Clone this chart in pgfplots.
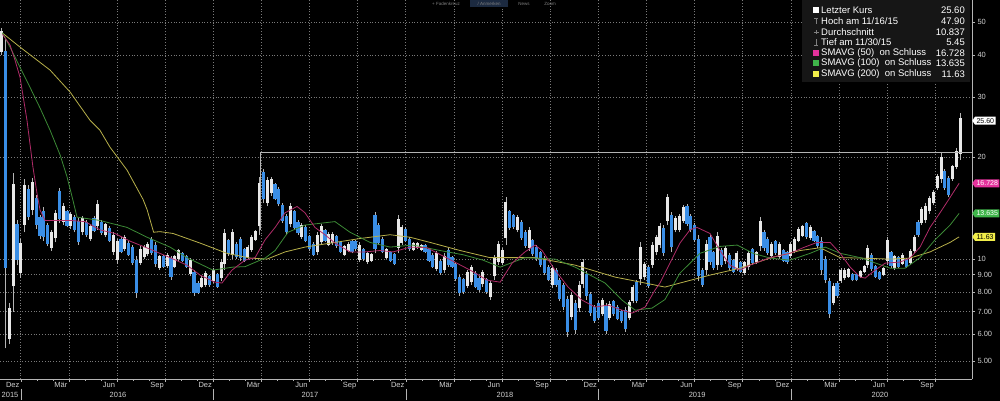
\documentclass[border=0pt]{standalone}
\usepackage{pgfplots}
\pgfplotsset{compat=1.18}
\usepackage{pgfplotstable}
\usepackage{fontspec}
\setmainfont{Liberation Sans}
\usetikzlibrary{shapes.symbols}
\definecolor{cblue}{HTML}{3A8EE6}
\definecolor{cwhite}{HTML}{E8E8E8}
\definecolor{cwick}{HTML}{B4B4B4}
\definecolor{cmag}{HTML}{B02C68}
\definecolor{cgreen}{HTML}{3C8A36}
\definecolor{cyel}{HTML}{B8B04A}
\definecolor{cgrid}{HTML}{7A7A7A}
\definecolor{ctxt}{HTML}{D0D0D0}
\definecolor{legbg}{HTML}{161616}
\definecolor{lmag}{HTML}{E4329C}
\definecolor{lgreen}{HTML}{3FB54A}
\definecolor{lyel}{HTML}{F2EE4A}
\definecolor{ctool}{HTML}{1C2A40}

\pgfplotstableread{
t lo hi b
2015.90 40.0 47.9 0
2015.92 5.45 45.0 1
2015.94 5.6 7.4 0
2015.96 7.0 18.0 0
2015.98 9.6 13.0 1
2016.00 8.8 11.5 0
2016.02 12.0 17.2 0
2016.04 13.0 16.5 1
2016.06 13.5 17.4 0
2016.08 12.3 15.5 1
2016.10 11.5 13.5 1
2016.12 11.3 14.2 1
2016.14 10.9 12.8 1
2016.16 10.6 12.2 0
2016.18 11.2 14.0 0
2016.20 12.8 16.2 1
2016.22 12.6 14.6 0
2016.24 12.4 14.0 1
2016.26 12.3 13.8 0
2016.28 12.0 13.5 1
2016.30 11.0 13.2 1
2016.32 11.8 13.4 0
2016.34 11.6 13.0 1
2016.36 11.3 12.7 0
2016.38 12.0 13.4 1
2016.40 12.2 14.9 0
2016.42 11.8 13.0 1
2016.44 11.6 12.8 0
2016.46 11.2 12.5 1
2016.48 10.3 12.0 0
2016.50 9.7 11.5 0
2016.52 10.4 11.6 1
2016.54 10.6 11.8 0
2016.56 10.2 11.3 1
2016.58 9.6 11.0 1
2016.60 7.7 10.2 1
2016.62 9.6 10.9 0
2016.64 10.0 11.0 0
2016.66 10.2 11.2 0
2016.68 10.3 11.6 1
2016.70 9.5 11.2 1
2016.72 9.3 10.3 0
2016.74 9.4 10.3 1
2016.76 9.4 10.4 0
2016.78 8.7 10.2 1
2016.80 9.4 10.3 0
2016.82 9.9 10.7 0
2016.84 9.8 10.5 1
2016.86 9.4 10.3 1
2016.88 8.9 10.1 0
2016.90 7.8 9.3 1
2016.92 7.9 8.6 1
2016.94 8.2 8.9 0
2016.96 8.3 9.2 0
2016.98 8.3 9.0 1
2017.00 8.5 9.4 0
2017.02 8.2 9.1 1
2017.04 8.6 10.0 0
2017.06 9.3 12.3 0
2017.08 10.2 11.5 1
2017.10 10.0 12.3 0
2017.12 10.0 11.2 1
2017.14 9.9 11.6 1
2017.16 9.8 10.8 1
2017.18 10.0 11.0 0
2017.20 10.5 11.8 0
2017.22 11.3 12.2 0
2017.24 11.8 17.5 0
2017.26 14.6 18.5 1
2017.28 14.3 17.5 0
2017.30 15.4 17.5 0
2017.32 14.9 16.8 1
2017.34 14.3 16.3 1
2017.36 12.8 14.6 1
2017.38 11.8 13.6 1
2017.40 12.4 14.6 0
2017.42 12.2 14.0 1
2017.44 11.8 13.0 1
2017.46 11.5 12.8 0
2017.48 11.2 12.6 1
2017.50 10.6 11.8 1
2017.52 10.2 11.2 1
2017.54 10.3 12.0 0
2017.56 11.0 12.7 0
2017.58 11.2 12.3 1
2017.60 10.9 12.0 0
2017.62 11.0 12.0 0
2017.64 10.8 11.8 1
2017.66 10.4 11.3 1
2017.68 10.2 11.0 0
2017.70 10.5 11.2 0
2017.72 10.4 11.4 1
2017.74 10.6 11.4 1
2017.76 9.8 11.2 0
2017.78 9.9 10.8 1
2017.80 9.7 10.5 0
2017.82 9.8 10.4 0
2017.84 10.4 13.8 1
2017.86 11.0 12.8 1
2017.88 10.4 11.6 1
2017.90 10.0 10.8 0
2017.92 9.8 10.6 1
2017.94 9.6 10.4 1
2017.96 10.4 13.5 0
2017.98 11.0 12.6 0
2018.00 11.2 12.4 1
2018.02 10.6 11.6 1
2018.04 10.6 11.2 0
2018.06 10.7 11.2 0
2018.08 10.6 11.1 0
2018.10 10.4 11.1 1
2018.12 9.8 10.8 1
2018.14 9.4 10.4 1
2018.16 9.2 10.6 0
2018.18 9.0 10.0 1
2018.20 9.1 10.4 0
2018.22 9.5 10.8 1
2018.24 9.4 10.2 1
2018.26 8.6 9.8 1
2018.28 7.8 9.0 1
2018.30 7.9 8.8 1
2018.32 8.2 9.3 0
2018.34 8.4 9.6 0
2018.36 8.2 9.2 1
2018.38 8.0 8.9 1
2018.40 8.3 9.3 0
2018.42 7.9 8.8 1
2018.44 7.6 8.6 0
2018.46 8.7 10.3 0
2018.48 9.6 11.3 0
2018.50 9.6 10.8 0
2018.52 11.0 15.2 0
2018.54 12.2 14.0 1
2018.56 12.3 13.6 1
2018.58 12.0 13.5 0
2018.60 11.4 13.0 1
2018.62 10.8 12.2 1
2018.64 10.6 12.4 0
2018.66 10.2 11.5 1
2018.68 9.9 11.0 1
2018.70 9.5 10.6 1
2018.72 9.0 10.2 1
2018.74 8.6 9.6 1
2018.76 8.2 9.6 0
2018.78 8.3 9.4 1
2018.80 7.5 8.8 1
2018.82 7.1 8.5 1
2018.84 5.9 7.8 1
2018.86 6.6 8.0 0
2018.88 6.0 7.6 1
2018.90 7.0 8.6 0
2018.92 8.2 10.0 0
2018.94 7.6 9.2 1
2018.96 6.8 8.0 1
2018.98 6.5 7.3 1
2019.00 6.6 7.5 1
2019.02 6.8 7.7 0
2019.04 6.0 7.4 1
2019.06 6.6 7.5 0
2019.08 6.8 7.6 1
2019.10 6.6 7.3 1
2019.12 6.5 7.1 1
2019.14 6.1 7.2 1
2019.16 6.6 7.6 0
2019.18 7.4 8.4 0
2019.20 7.4 8.7 1
2019.22 8.4 11.2 0
2019.24 8.7 9.8 0
2019.26 8.2 9.6 1
2019.28 9.4 11.2 0
2019.30 10.3 11.8 0
2019.32 10.8 12.8 0
2019.34 10.2 12.6 1
2019.36 12.6 15.6 0
2019.38 10.5 13.8 1
2019.40 12.0 13.4 0
2019.42 12.0 13.6 0
2019.44 12.8 14.4 0
2019.46 12.5 14.5 1
2019.48 12.0 13.6 1
2019.50 11.2 12.8 1
2019.52 8.6 11.8 1
2019.54 8.3 9.4 1
2019.56 9.0 11.4 0
2019.58 9.6 11.8 1
2019.60 9.3 10.6 1
2019.62 9.3 12.0 0
2019.64 9.5 10.8 1
2019.66 9.7 10.9 0
2019.68 9.3 10.4 1
2019.70 9.1 10.0 1
2019.72 9.2 10.6 0
2019.74 9.1 9.9 1
2019.76 9.0 9.9 0
2019.78 9.3 10.6 0
2019.80 9.6 10.8 1
2019.82 9.7 10.6 0
2019.84 10.6 13.3 0
2019.86 10.6 12.2 1
2019.88 10.3 11.6 1
2019.90 10.1 11.2 0
2019.92 10.3 11.4 1
2019.94 10.0 11.2 0
2019.96 9.8 10.7 1
2019.98 9.7 10.6 1
2020.00 10.1 11.2 0
2020.02 10.4 11.6 0
2020.04 11.2 12.4 0
2020.06 11.6 12.6 0
2020.08 11.5 12.9 1
2020.10 11.4 12.6 0
2020.12 11.2 12.2 1
2020.14 10.8 11.8 1
2020.16 9.0 11.6 1
2020.18 8.5 10.2 1
2020.20 6.7 8.8 1
2020.22 7.3 8.5 0
2020.24 7.7 8.6 1
2020.26 8.5 9.4 0
2020.28 8.7 9.4 0
2020.30 8.8 9.4 0
2020.32 8.6 9.1 1
2020.34 8.6 9.1 1
2020.36 8.8 9.3 0
2020.38 9.1 9.6 0
2020.40 9.4 11.0 0
2020.42 9.2 10.4 1
2020.44 8.8 9.6 1
2020.46 8.7 9.2 1
2020.48 8.9 9.5 0
2020.50 9.6 11.6 0
2020.52 9.4 10.6 1
2020.54 9.3 10.3 0
2020.56 9.4 10.2 1
2020.58 9.6 10.4 0
2020.60 9.4 10.1 1
2020.62 9.6 10.7 0
2020.64 10.4 11.8 0
2020.66 11.6 13.0 1
2020.68 12.6 14.2 0
2020.70 12.8 14.6 0
2020.72 13.6 15.4 0
2020.74 14.4 16.0 0
2020.76 16.0 17.8 0
2020.78 16.8 20.5 0
2020.80 16.0 18.4 1
2020.82 15.2 17.6 1
2020.84 17.0 19.0 0
2020.86 18.4 21.2 0
2020.88 19.6 26.9 0
}\price

\pgfplotstableread{
t v
2015.905 46.0
2015.944 42.8
2015.970 38.6
2015.996 34.4
2016.032 25.7
2016.063 18.7
2016.084 15.65
2016.100 13.95
2016.126 13.0
2016.178 13.0
2016.256 13.0
2016.334 12.9
2016.411 12.2
2016.489 11.9
2016.567 11.3
2016.671 10.7
2016.775 10.1
2016.863 9.6
2016.931 8.97
2017.009 8.55
2017.045 8.5
2017.097 9.28
2017.165 9.93
2017.217 10.1
2017.269 11.4
2017.321 12.4
2017.373 13.7
2017.435 14.3
2017.476 13.7
2017.528 12.4
2017.580 11.8
2017.632 11.15
2017.710 10.5
2017.788 10.5
2017.866 10.6
2017.934 10.5
2018.022 10.85
2018.110 10.8
2018.214 10.07
2018.334 9.28
2018.422 8.67
2018.490 8.55
2018.552 9.73
2018.619 10.5
2018.671 11.0
2018.708 10.6
2018.775 9.28
2018.843 8.27
2018.915 7.57
2018.983 7.22
2019.050 7.32
2019.123 7.07
2019.175 6.93
2019.243 7.22
2019.294 8.1
2019.320 8.5
2019.372 9.73
2019.424 11.15
2019.476 12.2
2019.513 12.4
2019.580 11.9
2019.632 10.6
2019.684 9.6
2019.736 9.28
2019.788 9.6
2019.892 10.1
2019.996 10.4
2020.063 10.8
2020.136 11.2
2020.204 11.2
2020.256 10.4
2020.308 9.47
2020.360 8.85
2020.386 8.79
2020.438 9.28
2020.490 9.73
2020.567 9.8
2020.619 10.07
2020.671 10.85
2020.723 12.4
2020.775 13.7
2020.827 15.2
2020.874 16.73
}\smafifty

\pgfplotstableread{
t v
2015.905 46.5
2015.944 42.2
2015.996 36.8
2016.048 32.1
2016.100 27.9
2016.152 24.0
2016.204 20.3
2016.240 17.5
2016.271 14.9
2016.292 13.3
2016.411 13.0
2016.552 12.4
2016.656 11.6
2016.775 10.85
2016.863 10.1
2016.998 9.28
2017.102 9.47
2017.165 9.5
2017.269 10.07
2017.321 10.6
2017.388 12.0
2017.476 12.6
2017.580 12.8
2017.632 12.9
2017.710 12.0
2017.814 11.2
2017.918 10.85
2018.037 11.0
2018.178 10.6
2018.297 10.3
2018.401 9.93
2018.490 9.47
2018.619 10.1
2018.775 10.0
2018.879 9.47
2019.035 8.5
2019.123 7.57
2019.191 7.07
2019.279 7.17
2019.346 7.6
2019.424 9.09
2019.528 10.4
2019.632 10.9
2019.721 11.0
2019.804 10.4
2019.892 10.07
2019.996 9.93
2020.100 10.4
2020.178 10.85
2020.256 10.4
2020.360 10.1
2020.516 9.4
2020.593 9.4
2020.671 10.1
2020.749 11.4
2020.827 12.6
2020.874 13.64
}\smahundred

\pgfplotstableread{
t v
2015.905 46.4
2015.996 42.2
2016.152 36.1
2016.256 31.1
2016.359 25.7
2016.411 24.0
2016.463 21.4
2016.552 18.3
2016.635 15.0
2016.656 14.0
2016.690 12.0
2016.723 12.05
2016.791 11.9
2016.931 11.15
2017.071 10.4
2017.191 10.07
2017.279 10.0
2017.373 10.5
2017.476 10.85
2017.632 11.2
2017.762 11.5
2017.918 11.8
2018.022 11.6
2018.126 11.2
2018.282 10.6
2018.437 10.1
2018.671 10.1
2018.879 9.6
2019.087 8.85
2019.243 8.5
2019.346 8.27
2019.424 8.5
2019.580 8.97
2019.736 9.4
2019.892 10.07
2020.048 10.6
2020.152 10.8
2020.256 10.1
2020.360 10.07
2020.516 10.0
2020.619 10.07
2020.723 10.5
2020.827 11.2
2020.874 11.63
}\smatwohundred

\begin{document}
\begin{tikzpicture}[x=1pt,y=1pt]
\path[use as bounding box] (0,0) rectangle (1000,401);
\fill[black] (0,0) rectangle (1000,401);
\begin{axis}[
  at={(0pt,22pt)}, anchor=south west, scale only axis,
  width=972pt, height=379pt,
  xmin=2015.892, xmax=2020.941,
  ymode=log, ymin=4.43, ymax=58.1,
  axis x line*=bottom, axis y line*=right,
  axis line style={draw=cwick, line width=0.6pt, -},
  clip mode=individual,
  /pgf/number format/assume math mode=true,
  xtick={2016,2016.25,2016.5,2016.75,2017,2017.25,2017.5,2017.75,2018,2018.25,2018.5,2018.75,2019,2019.25,2019.5,2019.75,2020,2020.25,2020.5,2020.75},
  xticklabels={},
  minor x tick num=2,
  extra x ticks={2015.958,2016.208,2016.458,2016.708,2016.958,2017.208,2017.458,2017.708,2017.958,2018.208,2018.458,2018.708,2018.958,2019.208,2019.458,2019.708,2019.958,2020.208,2020.458,2020.708},
  extra x tick labels={Dez,Mär,Jun,Sep,Dez,Mär,Jun,Sep,Dez,Mär,Jun,Sep,Dez,Mär,Jun,Sep,Dez,Mär,Jun,Sep},
  extra x tick style={grid=none, major tick length=0pt, xticklabel style={yshift=0pt}},
  ytick={5,6,7,8,9,10,20,30,40,50},
  yticklabels={5.00,6.00,7.00,8.00,9.00,10,20,30,40,50},
  minor ytick={},
  xmajorgrids, ymajorgrids,
  grid style={cgrid, line width=0.7pt, dash pattern=on 0.8pt off 2pt},
  tick align=outside, major tick length=3pt, minor tick length=2pt,
  tick style={cwick, line width=0.5pt},
  ticklabel style={font=\fontsize{7.5}{8}\selectfont, text=ctxt},
  yticklabel style={anchor=west, xshift=-1pt},
]
% wicks
\addplot[draw=none, forget plot, error bars/.cd, y dir=plus, y explicit, error mark=none,
  error bar style={draw=cwick, line width=0.8pt, solid}]
  table[x=t, y=lo, y error expr=\thisrow{hi}-\thisrow{lo}] {\price};
% white bodies
\addplot[draw=none, forget plot, restrict expr to domain={\thisrow{b}}{-0.5:0.5},
  error bars/.cd, y dir=plus, y explicit, error mark=none,
  error bar style={draw=cwhite, line width=3pt, solid}]
  table[x=t, y expr=\thisrow{lo}+0.12*(\thisrow{hi}-\thisrow{lo}), y error expr=0.76*(\thisrow{hi}-\thisrow{lo})] {\price};
% blue bodies
\addplot[draw=none, forget plot, restrict expr to domain={\thisrow{b}}{0.5:1.5},
  error bars/.cd, y dir=plus, y explicit, error mark=none,
  error bar style={draw=cblue, line width=3.2pt, solid}]
  table[x=t, y expr=\thisrow{lo}+0.1*(\thisrow{hi}-\thisrow{lo}), y error expr=0.8*(\thisrow{hi}-\thisrow{lo})] {\price};
% moving averages
\addplot[cyel, line width=0.8pt] table[x=t, y=v] {\smatwohundred};
\addplot[cgreen, line width=0.8pt] table[x=t, y=v] {\smahundred};
\addplot[cmag, line width=0.8pt] table[x=t, y=v] {\smafifty};
% annotation line
\addplot[cwick, line width=0.7pt] coordinates {(2017.245,12.2) (2017.245,20.7) (2020.941,20.7)};
% year labels and separators
\node[font=\fontsize{7.5}{8}\selectfont, text=ctxt] at (axis cs:2015.944,3.98) {2015};
\node[font=\fontsize{7.5}{8}\selectfont, text=ctxt] at (axis cs:2016.505,3.98) {2016};
\node[font=\fontsize{7.5}{8}\selectfont, text=ctxt] at (axis cs:2017.502,3.98) {2017};
\node[font=\fontsize{7.5}{8}\selectfont, text=ctxt] at (axis cs:2018.515,3.98) {2018};
\node[font=\fontsize{7.5}{8}\selectfont, text=ctxt] at (axis cs:2019.513,3.98) {2019};
\node[font=\fontsize{7.5}{8}\selectfont, text=ctxt] at (axis cs:2020.463,3.98) {2020};
\draw[cwick, line width=0.5pt] (axis cs:2016,4.15) -- (axis cs:2016,3.84);
\draw[cwick, line width=0.5pt] (axis cs:2017,4.15) -- (axis cs:2017,3.84);
\draw[cwick, line width=0.5pt] (axis cs:2018,4.15) -- (axis cs:2018,3.84);
\draw[cwick, line width=0.5pt] (axis cs:2019,4.15) -- (axis cs:2019,3.84);
\draw[cwick, line width=0.5pt] (axis cs:2020,4.15) -- (axis cs:2020,3.84);
% right-side value flags
\node[signal, signal to=west, signal pointer angle=110, fill=white, text=black, font=\fontsize{7}{8}\selectfont, inner sep=1.5pt, anchor=west] at (axis cs:2020.941,25.6) {25.60};
\node[signal, signal to=west, signal pointer angle=110, fill=lmag, text=white, font=\fontsize{7}{8}\selectfont, inner sep=1.5pt, anchor=west] at (axis cs:2020.941,16.728) {16.728};
\node[signal, signal to=west, signal pointer angle=110, fill=lgreen, text=white, font=\fontsize{7}{8}\selectfont, inner sep=1.5pt, anchor=west] at (axis cs:2020.941,13.635) {13.635};
\node[signal, signal to=west, signal pointer angle=110, fill=lyel, text=black, font=\fontsize{7}{8}\selectfont, inner sep=1.5pt, anchor=west] at (axis cs:2020.941,11.63) {11.63};
\end{axis}
% legend box
\fill[legbg] (802,319) rectangle (970,401);
\begin{scope}[font=\fontsize{9.5}{10}\selectfont, text=white]
\fill[white] (813,388) rectangle (819,394);
\node[anchor=west, inner sep=0] at (821,391) {Letzter Kurs};
\node[anchor=east, inner sep=0] at (965,391) {25.60};
\draw[gray, line width=0.5pt] (814,383) -- (818,383) (816,383) -- (816,377);
\node[anchor=west, inner sep=0] at (821,380) {Hoch am 11/16/15};
\node[anchor=east, inner sep=0] at (965,380) {47.90};
\draw[gray, line width=0.5pt] (813.5,369) -- (818.5,369) (816,371) -- (816,367);
\node[anchor=west, inner sep=0] at (821,369) {Durchschnitt};
\node[anchor=east, inner sep=0] at (965,369) {10.837};
\draw[gray, line width=0.5pt] (814,356) -- (818,356) (816,356) -- (816,362);
\node[anchor=west, inner sep=0] at (821,359) {Tief am 11/30/15};
\node[anchor=east, inner sep=0] at (965,359) {5.45};
\fill[lmag] (813,345) rectangle (819,351);
\node[anchor=west, inner sep=0] at (821,348) {SMAVG (50)\ \ on Schluss};
\node[anchor=east, inner sep=0] at (965,348) {16.728};
\fill[lgreen] (813,335) rectangle (819,341);
\node[anchor=west, inner sep=0] at (821,338) {SMAVG (100)\ \ on Schluss};
\node[anchor=east, inner sep=0] at (965,338) {13.635};
\fill[lyel] (813,324) rectangle (819,330);
\node[anchor=west, inner sep=0] at (821,327) {SMAVG (200)\ \ on Schluss};
\node[anchor=east, inner sep=0] at (965,327) {11.63};
\end{scope}
% toolbar
\begin{scope}[font=\fontsize{4.5}{5}\selectfont, text=gray]
\node at (446,397.5) {+ Fadenkreuz};
\fill[ctool] (470,394) rectangle (508,401);
\node at (489,397.5) {/ Anmerken};
\node at (524,397.5) {News};
\node at (550,397.5) {Zoom};
\end{scope}
\end{tikzpicture}
\end{document}
